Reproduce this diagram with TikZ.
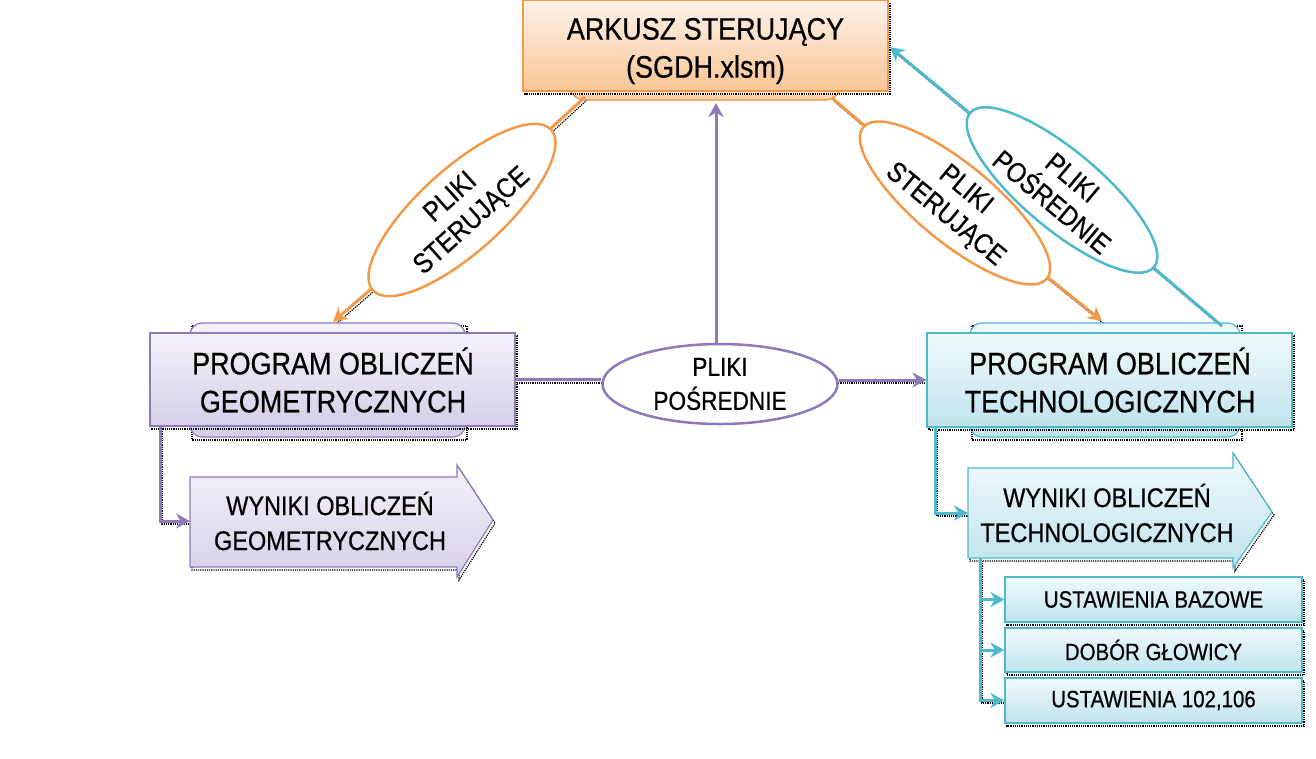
\documentclass[tikz,border=0pt]{standalone}
\usepackage{fontspec}
\setmainfont{Liberation Sans}[FakeStretch=0.87,FakeBold=0.6]
\usetikzlibrary{shapes.geometric,arrows.meta}
\definecolor{orln}{HTML}{F39A4A}
\definecolor{orlt}{HTML}{FDF3EA}
\definecolor{ordk}{HTML}{F9C595}
\definecolor{puln}{HTML}{8E79B9}
\definecolor{pult}{HTML}{F5F2F9}
\definecolor{pudk}{HTML}{D8CEE8}
\definecolor{cyln}{HTML}{4FB9CC}
\definecolor{cylt}{HTML}{F1FAFC}
\definecolor{cydk}{HTML}{BFE4EC}
\begin{document}
\begin{tikzpicture}[x=1pt,y=-1pt,
  big/.style={font=\fontsize{31}{38}\selectfont},
  mids/.style={font=\fontsize{27}{35}\selectfont},
  ell/.style={font=\fontsize{26}{34}\selectfont},
  rell/.style={font=\fontsize{28}{32}\selectfont},
  sml/.style={font=\fontsize{23.5}{28}\selectfont},
  tx/.style={align=center, inner sep=0pt, text=black},
  shd/.style={draw=black, densely dotted, line width=1.2pt, transform canvas={shift={(2pt,-3pt)}}},
  orbox/.style={draw=orln, line width=1.2pt, top color=orlt, bottom color=ordk},
  pubox/.style={draw=puln, line width=1.2pt, top color=pult, bottom color=pudk},
  cybox/.style={draw=cyln, line width=1.2pt, top color=cylt, bottom color=cydk},
  oline/.style={draw=orln, line width=3pt},
  pline/.style={draw=puln, line width=3pt},
  cline/.style={draw=cyln, line width=3pt},
  tip/.style={-{Stealth[length=14pt,width=15pt]}},
  oell/.style={ellipse, draw=orln, line width=2.5pt, fill=white, inner sep=0pt},
  pell/.style={ellipse, draw=puln, line width=2.5pt, fill=white, inner sep=0pt},
  cell/.style={ellipse, draw=cyln, line width=2.5pt, fill=white, inner sep=0pt}
]
\useasboundingbox (0,0) rectangle (1316,758);

% ---------- coordinates for connectors
\coordinate (oL1) at (585,97);
\coordinate (cL) at (462,210);
\coordinate (oL2) at (333,322);
\coordinate (oR1) at (832,98);
\coordinate (cR) at (955,203);
\coordinate (oR2) at (1102,321);
\coordinate (cB) at (1222,326);
\coordinate (cC) at (1062,190);
\coordinate (cT) at (890,47);
\coordinate (pV) at (716,103);
\coordinate (eLg) at (160,426);
\coordinate (eRg) at (935,428);
\coordinate (eRw) at (980,558);

% ---------- shadows of lines
\draw[shd] (oL1) -- (cL) -- (oL2);
\draw[shd] (oR1) -- (cR) -- (oR2);
\draw[shd] (cB) -- (cC) -- (cT);
\draw[shd] (515,380) -- (927,380);
\draw[shd] (eLg) |- (190,521);
\draw[shd] (eRg) |- (968,513);
\draw[shd] (eRw) |- (1005,700);

% ---------- top box
\fill[orbox] (567,88) [rounded corners=6pt] -- (578,100) -- (832,100) -- (843,88) -- cycle;
\draw[shd] (523,0) rectangle (888,91);
\node[orbox, minimum width=365pt, minimum height=91pt, inner sep=0pt] (top) at (705.5,45.5) {};
\node[tx, big] (toptx) at (705.5,51) {ARKUSZ STERUJĄCY\\(SGDH.xlsm)};

% ---------- left program box
\draw[shd] (190,323) rectangle (465,437);
\draw[pubox, rounded corners=12pt] (190,323) rectangle (465,437);
\draw[shd] (150,333) rectangle (515,426);
\node[pubox, minimum width=365pt, minimum height=93pt, inner sep=0pt] (pg) at (332.5,379.5) {};
\node[tx, big] (pgtx) at (333,380) {PROGRAM OBLICZEŃ\\GEOMETRYCZNYCH};

% ---------- right program box
\draw[shd] (970,323) rectangle (1240,437);
\draw[cybox, rounded corners=12pt] (970,323) rectangle (1240,437);
\draw[shd] (927,333) rectangle (1292,427);
\node[cybox, minimum width=365pt, minimum height=94pt, inner sep=0pt] (pt) at (1109.5,380) {};
\node[tx, big] (pttx) at (1110,380) {PROGRAM OBLICZEŃ\\TECHNOLOGICZNYCH};

% ---------- result arrows
\draw[shd] (190,477) -- (457,477) -- (457,465) -- (493,520) -- (457,577) -- (457,567) -- (190,567) -- cycle;
\draw[pubox] (190,477) -- (457,477) -- (457,465) -- (493,520) -- (457,577) -- (457,567) -- (190,567) -- cycle;
\node[tx, mids] (wg) at (330,521) {WYNIKI OBLICZEŃ\\GEOMETRYCZNYCH};
\coordinate (wgw) at (190,521);

\draw[shd] (968,468) -- (1233,468) -- (1233,453) -- (1272,512) -- (1233,568) -- (1233,558) -- (968,558) -- cycle;
\draw[cybox] (968,468) -- (1233,468) -- (1233,453) -- (1272,512) -- (1233,568) -- (1233,558) -- (968,558) -- cycle;
\node[tx, mids] (wt) at (1107,513) {WYNIKI OBLICZEŃ\\TECHNOLOGICZNYCH};
\coordinate (wtw) at (968,513);

% ---------- small boxes
\draw[shd] (1005,577) rectangle (1302,622);
\node[cybox, minimum width=297pt, minimum height=45pt, inner sep=0pt] (b1) at (1153.5,599.5) {};
\node[tx, sml] at (b1) {USTAWIENIA BAZOWE};
\draw[shd] (1005,628) rectangle (1302,672);
\node[cybox, minimum width=297pt, minimum height=44pt, inner sep=0pt] (b2) at (1153.5,650) {};
\node[tx, sml] at (b2) {DOBÓR GŁOWICY};
\draw[shd] (1005,678) rectangle (1302,723);
\node[cybox, minimum width=297pt, minimum height=45pt, inner sep=0pt] (b3) at (1153.5,700.5) {};
\node[tx, sml] at (b3) {USTAWIENIA 102,106};

% ---------- connectors
\draw[oline] (oL1) -- (cL);
\draw[oline, tip] (cL) -- (oL2);
\draw[oline] (oR1) -- (cR);
\draw[oline, tip] (cR) -- (oR2);
\draw[cline] (cB) -- (cC);
\draw[cline, tip] (cC) -- (cT);

\node[pell, minimum width=235pt, minimum height=80pt] (mid) at (720,384) {};
\node[tx, ell] at (mid) {PLIKI\\POŚREDNIE};
\draw[pline, tip] (mid.north -| pV) -- (pV);
\draw[pline] (pg.east) -- (pg.east -| mid.west);
\draw[pline, tip] (mid.east |- pt.west) -- (pt.west);

\draw[pline, tip] (eLg) |- (wgw);
\draw[cline, tip] (eRg) |- (wtw);
\draw[cline, tip] (eRw) |- (b1.west);
\draw[cline, tip] (eRw) |- (b2.west);
\draw[cline, tip] (eRw) |- (b3.west);

% ---------- rotated ellipses
\node[oell, rotate=42, minimum width=240pt, minimum height=84pt] (eL) at (cL) {};
\node[tx, rell, rotate=42] at (eL) {PLIKI\\STERUJĄCE};
\node[oell, rotate=-39.5, minimum width=238pt, minimum height=78pt] (eR) at (cR) {};
\node[tx, rell, rotate=-39.5] at (eR) {PLIKI\\STERUJĄCE};
\node[cell, rotate=-40, minimum width=240pt, minimum height=78pt] (eC) at (cC) {};
\node[tx, rell, rotate=-40] at (eC) {PLIKI\\POŚREDNIE};
\end{tikzpicture}
\end{document}
